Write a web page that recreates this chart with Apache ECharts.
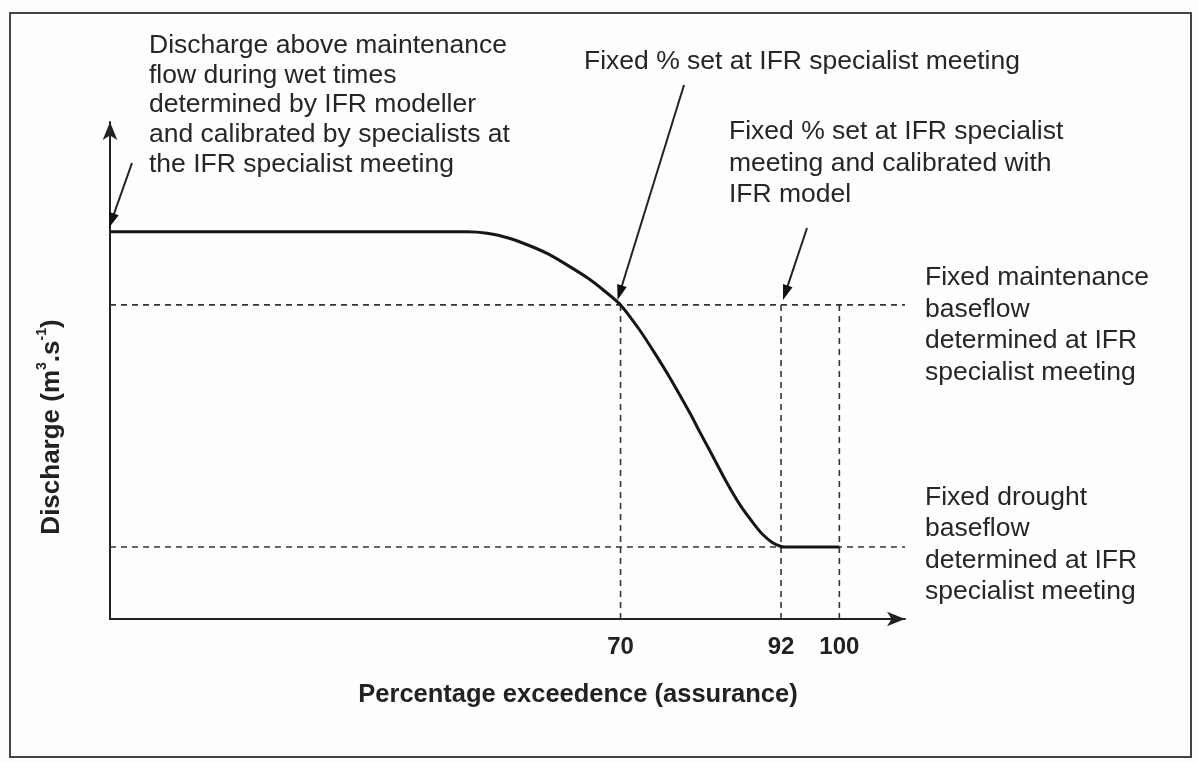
<!DOCTYPE html>
<html>
<head>
<meta charset="utf-8">
<script src="https://cdn.jsdelivr.net/npm/echarts@6/dist/echarts.min.js"></script>
<style>
html,body{margin:0;padding:0;background:#fefefe;}
#chart{width:1198px;height:763px;}
</style>
</head>
<body>
<div id="chart"></div>
<script>
// ---- data (schematic) ----
const exceedence = [0, 49, 51.7, 54.5, 57.2, 60, 62.7, 65.5, 67.8, 70, 72.5, 74.6, 76.7, 79.6, 80.8, 82.7, 84.5, 86.4, 88.3, 89.5, 90.8, 92, 93, 100];
const discharge  = [7.79, 7.79, 7.76, 7.67, 7.53, 7.35, 7.12, 6.86, 6.6, 6.32, 5.84, 5.37, 4.87, 4.12, 3.78, 3.26, 2.76, 2.29, 1.91, 1.7, 1.54, 1.46, 1.45, 1.45];
const xTickLabels = [70, 92, 100];
const maintenanceFlow = 6.32;
const droughtFlow = 1.45;
const xAxisMax = 109;
const yAxisMax = 10;

const xTitle = 'Percentage exceedence (assurance)';
const noteWet = 'Discharge above maintenance\nflow during wet times\ndetermined by IFR modeller\nand calibrated by specialists at\nthe IFR specialist meeting';
const noteFixed70 = 'Fixed % set at IFR specialist meeting';
const noteFixed92 = 'Fixed % set at IFR specialist\nmeeting and calibrated with\nIFR model';
const noteMaint = 'Fixed maintenance\nbaseflow\ndetermined at IFR\nspecialist meeting';
const noteDrought = 'Fixed drought\nbaseflow\ndetermined at IFR\nspecialist meeting';

const FONT = '"Liberation Sans", Arial, Helvetica, sans-serif';
const TXT = '#262626';
const chart = echarts.init(document.getElementById('chart'));

const dashStyle = {color: '#333', width: 1.6, type: [6, 5]};
function dashSeries(points) {
  return {type: 'line', data: points, symbol: 'none', silent: true, z: 1,
          lineStyle: dashStyle, animation: false};
}

chart.setOption({
  backgroundColor: '#fefefe',
  animation: false,
  grid: {left: 110, right: 1198 - 905, top: 122, bottom: 763 - 619},
  xAxis: {
    type: 'value', min: 0, max: xAxisMax,
    axisLine: {show: true, symbol: ['none', 'arrow'], symbolSize: [11, 18],
               lineStyle: {color: '#222', width: 2}},
    axisTick: {show: false},
    splitLine: {show: false},
    axisLabel: {customValues: xTickLabels, margin: 16, fontSize: 24, fontWeight: 'bold',
                color: '#222', fontFamily: FONT}
  },
  yAxis: {
    type: 'value', min: 0, max: yAxisMax,
    axisLine: {show: true, symbol: ['none', 'arrow'], symbolSize: [11, 18],
               lineStyle: {color: '#222', width: 2}},
    axisTick: {show: false},
    splitLine: {show: false},
    axisLabel: {show: false}
  },
  series: [
    dashSeries([[0, maintenanceFlow], [xAxisMax, maintenanceFlow]]),
    dashSeries([[0, droughtFlow], [xAxisMax, droughtFlow]]),
    dashSeries([[xTickLabels[0], 0], [xTickLabels[0], maintenanceFlow]]),
    dashSeries([[xTickLabels[1], 0], [xTickLabels[1], maintenanceFlow]]),
    dashSeries([[xTickLabels[2], 0], [xTickLabels[2], maintenanceFlow]]),
    {
      type: 'line', z: 3, symbol: 'none', smooth: 0.25, silent: true,
      data: exceedence.map((x, i) => [x, discharge[i]]),
      lineStyle: {color: '#161616', width: 3}
    }
  ]
});

function arrow(tail, tip) {
  const dx = tip[0] - tail[0], dy = tip[1] - tail[1];
  const len = Math.sqrt(dx * dx + dy * dy);
  const ux = dx / len, uy = dy / len;
  const hl = 15, hw = 5;
  const bx = tip[0] - ux * hl, by = tip[1] - uy * hl;
  return [
    {type: 'line', silent: true, z: 20,
     shape: {x1: tail[0], y1: tail[1], x2: bx + ux * 2, y2: by + uy * 2},
     style: {stroke: '#222', lineWidth: 2}},
    {type: 'polygon', silent: true, z: 20,
     shape: {points: [tip, [bx - uy * hw, by + ux * hw], [bx + uy * hw, by - ux * hw]]},
     style: {fill: '#111'}}
  ];
}

function note(x, y, text, lh) {
  return {type: 'text', x: x, y: y, silent: true, z: 20,
          style: {text: text, font: '26.5px ' + FONT, fill: TXT, lineHeight: lh,
                  align: 'left', verticalAlign: 'top'}};
}

const pStart = chart.convertToPixel({gridIndex: 0}, [0, discharge[0]]);
const p70 = chart.convertToPixel({gridIndex: 0}, [xTickLabels[0], maintenanceFlow]);
const p92 = chart.convertToPixel({gridIndex: 0}, [xTickLabels[1], maintenanceFlow]);

const graphics = [
  {type: 'rect', silent: true, z: 0,
   shape: {x: 10, y: 13, width: 1181, height: 744},
   style: {fill: 'none', stroke: '#444', lineWidth: 2}},
  note(149, 31, noteWet, 29.6),
  note(584, 47, noteFixed70, 30),
  note(729, 116, noteFixed92, 31.5),
  note(925, 262, noteMaint, 31.6),
  note(925, 482, noteDrought, 31.4),
  {type: 'text', x: 578, y: 695, silent: true, z: 20,
   style: {text: xTitle, font: 'bold 25.5px ' + FONT, fill: '#222', align: 'center', verticalAlign: 'middle'}},
  {type: 'text', x: 50, y: 427, rotation: Math.PI / 2, silent: true, z: 20,
   style: {text: '{b|Discharge (m}{s|3}{b|.s}{s|-1}{b|)}', align: 'center', verticalAlign: 'middle',
           rich: {
             b: {font: 'bold 26px ' + FONT, fill: '#222', lineHeight: 30, verticalAlign: 'bottom'},
             s: {font: 'bold 14px ' + FONT, fill: '#222', lineHeight: 30, verticalAlign: 'top'}
           }}}
]
  .concat(arrow([132, 163], [pStart[0] - 1, pStart[1] - 4]))
  .concat(arrow([684, 85], [p70[0] - 3, p70[1] - 5]))
  .concat(arrow([807, 228], [p92[0] + 2, p92[1] - 5]));

chart.setOption({graphic: graphics});
</script>
</body>
</html>
